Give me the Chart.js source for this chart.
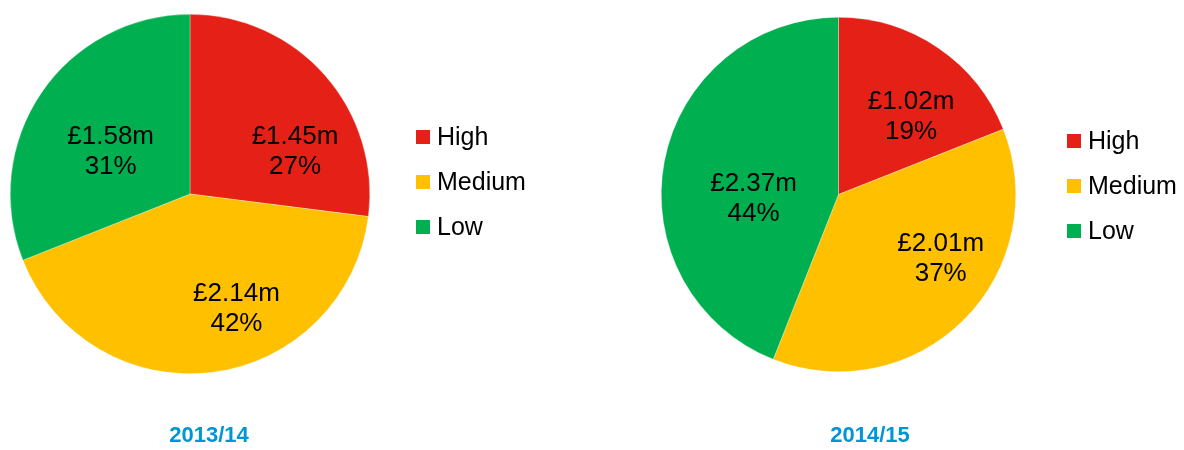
<!DOCTYPE html>
<html>
<head>
<meta charset="utf-8">
<script src="https://cdn.jsdelivr.net/npm/chart.js@4.4.0/dist/chart.umd.min.js"></script>
<style>
    body { margin: 0; background: #fff; }
    #wrap { position: relative; width: 1184px; height: 450px; }
    canvas { position: absolute; top: 0; }
    #pie1 { left: 0; }
    #pie2 { left: 592px; }
</style>
</head>
<body>
<div id="wrap">
    <canvas id="pie1" width="592" height="450"></canvas>
    <canvas id="pie2" width="592" height="450"></canvas>
</div>
<script>
const categories = ['High', 'Medium', 'Low'];
const colours = ['#E52117', '#FFC000', '#00B050'];

const year1 = '2013/14';
const share1 = [27, 42, 31];
const amounts1 = ['£1.45m', '£2.14m', '£1.58m'];

const year2 = '2014/15';
const share2 = [19, 37, 44];
const amounts2 = ['£1.02m', '£2.01m', '£2.37m'];

const FONT = 'Arial, "Liberation Sans", sans-serif';

// labels, legend and year title drawn on top of the pie
const pieText = {
    id: 'pieText',
    afterDraw(chart, args, opts) {
        const ctx = chart.ctx;
        const arcs = chart.getDatasetMeta(0).data;
        ctx.save();
        ctx.textAlign = 'center';
        ctx.textBaseline = 'middle';
        ctx.fillStyle = '#000';
        ctx.font = '26px ' + FONT;
        arcs.forEach((arc, i) => {
            const a = (opts.labelAngle[i] - 90) * Math.PI / 180;
            const r = arc.outerRadius * opts.labelDist[i];
            const x = arc.x + Math.cos(a) * r;
            const y = arc.y + Math.sin(a) * r;
            ctx.fillText(opts.amounts[i], x, y - 15);
            ctx.fillText(chart.data.datasets[0].data[i] + '%', x, y + 15);
        });

        // legend
        ctx.textAlign = 'left';
        ctx.font = '25px ' + FONT;
        categories.forEach((c, i) => {
            const y = opts.legendTop + i * 45;
            ctx.fillStyle = colours[i];
            ctx.fillRect(opts.legendX, y - 7, 14, 14);
            ctx.fillStyle = '#000';
            ctx.fillText(c, opts.legendX + 21, y + 1);
        });

        // year title
        ctx.textAlign = 'center';
        ctx.fillStyle = '#0096D6';
        ctx.font = 'bold 22px ' + FONT;
        ctx.fillText(opts.title, opts.titleX, 436);
        ctx.restore();
    }
};

function makePie(id, share, amounts, title, padding, textOpts) {
    return new Chart(document.getElementById(id), {
        type: 'pie',
        data: {
            labels: categories,
            datasets: [{
                data: share,
                backgroundColor: colours,
                borderColor: 'rgba(255,255,255,0.6)',
                borderWidth: 0.5
            }]
        },
        options: {
            responsive: false,
            animation: false,
            layout: { padding: padding },
            plugins: {
                legend: { display: false },
                tooltip: { enabled: false },
                pieText: Object.assign({ amounts: amounts, title: title }, textOpts)
            }
        },
        plugins: [pieText]
    });
}

makePie('pie1', share1, amounts1, year1,
    { left: 10, right: 222, top: 14, bottom: 76 },
    { labelAngle: [68, 158, 298], labelDist: [0.63, 0.69, 0.50], legendX: 416, legendTop: 137, titleX: 209 });

makePie('pie2', share2, amounts2, year2,
    { left: 69, right: 168, top: 17, bottom: 78 },
    { labelAngle: [43, 122, 267], labelDist: [0.60, 0.68, 0.48], legendX: 475, legendTop: 141, titleX: 278 });
</script>
</body>
</html>
